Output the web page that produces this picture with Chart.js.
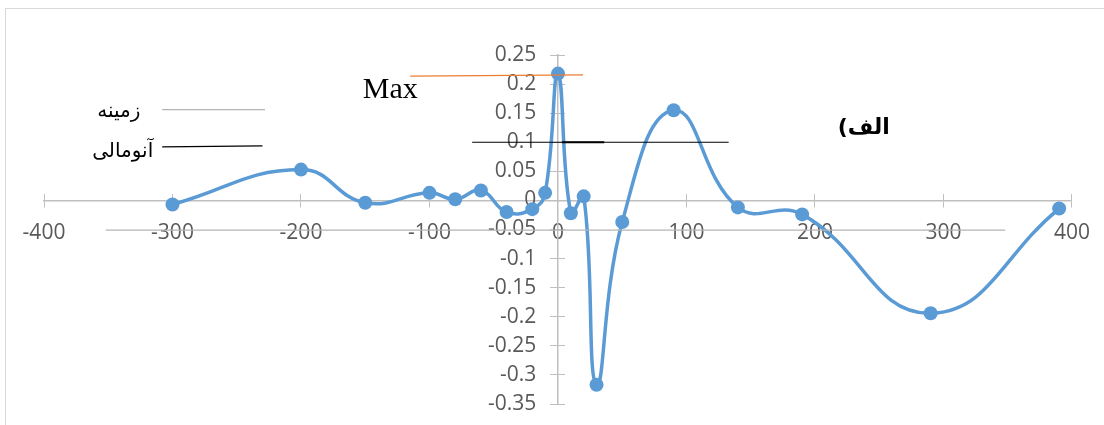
<!DOCTYPE html>
<html>
<head>
<meta charset="utf-8">
<script src="https://cdn.jsdelivr.net/npm/chart.js@4.4.1/dist/chart.umd.min.js"></script>
<style>
  html, body { margin: 0; padding: 0; background: #fff; }
  #wrap { position: relative; width: 1104px; height: 425px; overflow: hidden; }
  #frame { position: absolute; left: 5px; top: 8px; width: 1200px; height: 500px;
           border-left: 1.5px solid #d9d9d9; border-top: 1.5px solid #d9d9d9; }
  canvas { position: absolute; left: 0; top: 0; }
</style>
</head>
<body>
<div id="wrap">
  <div id="frame"></div>
  <canvas id="chart" width="1104" height="425"></canvas>
</div>
<script>
// series values
const xValues = [-300, -200, -150, -100, -80, -60, -40, -20, -10, 0, 10, 20, 30, 50, 90, 140, 190, 290, 390];
const yValues = [-0.007, 0.053, -0.004, 0.013, 0.002, 0.017, -0.020, -0.015, 0.013, 0.218, -0.022, 0.007, -0.317, -0.037, 0.155, -0.012, -0.024, -0.194, -0.014];

// tick labels
const xTickValues = [-400, -300, -200, -100, 0, 100, 200, 300, 400];
const yTickValues = [-0.35, -0.3, -0.25, -0.2, -0.15, -0.1, -0.05, 0, 0.05, 0.1, 0.15, 0.2, 0.25];

// hand drawn lines on the chart (in data units)
const maxLineX = [-115, 19.5];
const maxLineY = [0.2138, 0.2160];
const limitLineX = [-66.8, 132.8];
const limitLineY = [0.1, 0.1];
const limitStubX = [3, 36];
const limitStubY = [0.1, 0.1];
const underLineX = [-352, 348];
const underLineY = [-0.051, -0.051];
const keyGrayX = [-308, -228];
const keyGrayY = [0.156, 0.156];
const keyBlackX = [-308, -230];
const keyBlackY = [0.092, 0.0936];

const notes = [
  { text: "Max", x: -130.5, y: 0.176, font: "30px 'Liberation Serif'", align: "center", baseline: "alphabetic" },
  { text: "زمینه", x: -325, y: 0.153, font: "20px 'DejaVu Sans'", align: "right", baseline: "middle", dir: "rtl" },
  { text: "آنومالی", x: -315, y: 0.083, font: "20px 'DejaVu Sans'", align: "right", baseline: "middle", dir: "rtl" },
  { text: "الف)", x: 238, y: 0.124, font: "bold 22px 'DejaVu Sans'", align: "center", baseline: "middle", dir: "rtl" },
];

const axisGray = "#bfbfbf";
const labelGray = "#595959";
const tickFont = { family: "'Open Sans'", size: 21 };

const zip = (xs, ys) => xs.map((x, i) => ({ x, y: ys[i] }));

const lineSet = (xs, ys, color, width) => ({
  data: zip(xs, ys),
  showLine: true,
  borderColor: color,
  borderWidth: width,
  pointRadius: 0,
  tension: 0,
  order: 1,
  clip: false,
});

const notePlugin = {
  id: "notes",
  afterDatasetsDraw(chart) {
    const { ctx, scales } = chart;
    notes.forEach((n) => {
      ctx.save();
      ctx.font = n.font;
      ctx.fillStyle = "#000";
      ctx.direction = n.dir || "ltr";
      ctx.textAlign = n.align;
      ctx.textBaseline = n.baseline;
      ctx.fillText(n.text, scales.x.getPixelForValue(n.x), scales.y.getPixelForValue(n.y));
      ctx.restore();
    });
  },
};

new Chart(document.getElementById("chart"), {
  type: "scatter",
  data: {
    datasets: [
      {
        data: zip(xValues, yValues),
        showLine: true,
        borderColor: "#5b9bd5",
        backgroundColor: "#5b9bd5",
        borderWidth: 3.5,
        pointRadius: 7,
        pointBorderWidth: 0,
        tension: 0.45,
        order: 2,
        clip: false,
      },
      lineSet(maxLineX, maxLineY, "#ed7d31", 1.3),
      lineSet(limitLineX, limitLineY, "#000", 1.2),
      lineSet(limitStubX, limitStubY, "#000", 2.2),
      lineSet(underLineX, underLineY, "#b4b4b4", 1.3),
      lineSet(keyGrayX, keyGrayY, "#b4b4b4", 1.3),
      lineSet(keyBlackX, keyBlackY, "#000", 1.2),
    ],
  },
  options: {
    responsive: false,
    animation: false,
    devicePixelRatio: 1,
    layout: { padding: { left: 44, right: 29, top: 55, bottom: 21 } },
    plugins: { legend: { display: false }, tooltip: { enabled: false } },
    scales: {
      x: {
        type: "linear",
        min: -400,
        max: 400,
        position: { y: 0 },
        afterBuildTicks: (axis) => { axis.ticks = xTickValues.map((v) => ({ value: v })); },
        grid: { drawOnChartArea: false, color: axisGray, tickLength: 6 },
        border: { color: axisGray, width: 1.5 },
        ticks: { color: labelGray, font: tickFont, padding: 14, callback: (v) => String(v) },
      },
      xUp: {
        type: "linear",
        axis: "x",
        min: -400,
        max: 400,
        position: { y: 0 },
        afterBuildTicks: (axis) => { axis.ticks = xTickValues.map((v) => ({ value: v })); },
        grid: { drawOnChartArea: false, color: axisGray, tickLength: -6 },
        border: { display: false },
        ticks: { display: false },
      },
      y: {
        type: "linear",
        min: -0.35,
        max: 0.25,
        position: { x: 0 },
        afterBuildTicks: (axis) => { axis.ticks = yTickValues.map((v) => ({ value: v })); },
        grid: { drawOnChartArea: false, color: axisGray, tickLength: 7 },
        border: { color: axisGray, width: 1.5 },
        // centred axes get no label padding, so trailing spaces push labels off the line
        ticks: { color: labelGray, font: tickFont, callback: (v) => String(Math.round(v * 100) / 100) + "    " },
      },
      yRight: {
        type: "linear",
        axis: "y",
        min: -0.35,
        max: 0.25,
        position: { x: 0 },
        afterBuildTicks: (axis) => { axis.ticks = yTickValues.map((v) => ({ value: v })); },
        grid: { drawOnChartArea: false, color: axisGray, tickLength: -7 },
        border: { display: false },
        ticks: { display: false },
      },
    },
  },
  plugins: [notePlugin],
});
</script>
</body>
</html>
